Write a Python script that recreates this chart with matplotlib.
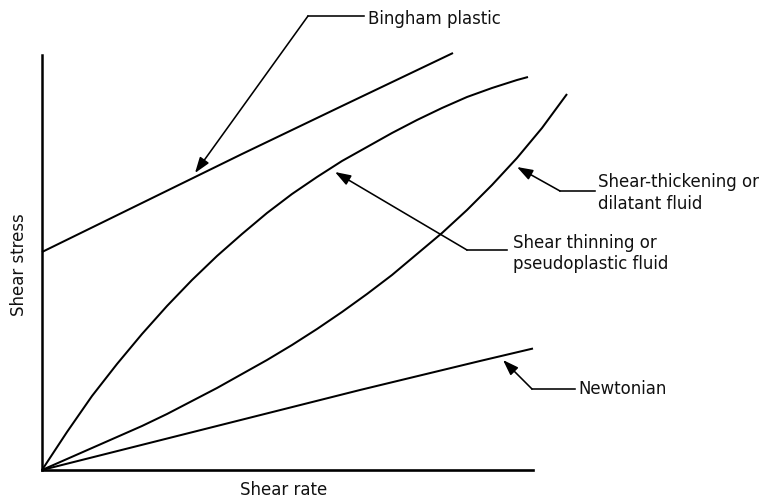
import matplotlib
matplotlib.use("Agg")
import matplotlib.pyplot as plt
from matplotlib import font_manager as fm

# ---------------- data ----------------
newton_x = [0, 318, 438, 491]
newton_y = [0, 80, 109, 121.5]

thin_x = [0, 25, 50, 75, 100, 125, 150, 175, 200, 225, 250, 275, 300,
          325, 350, 375, 400, 425, 450, 475, 486]
thin_y = [0, 38, 74, 106, 136, 164, 190, 214, 236, 257, 276, 293, 309,
          323, 337, 350, 362, 373, 382, 390, 393]

thick_x = [0, 25, 50, 75, 100, 125, 150, 175, 200, 225, 250, 275, 300,
           325, 350, 375, 400, 425, 450, 475, 500, 525]
thick_y = [0, 11, 22, 33, 44, 56, 69, 82, 96, 110, 125, 141, 158,
           176, 195, 216, 237, 260, 285, 312, 342, 376]

bingham_x = [0, 100, 200, 300, 411]
bingham_y = [218, 267, 316, 364, 417]

x_label = "Shear rate"
y_label = "Shear stress"
lbl_bingham = ["Bingham plastic"]
lbl_thick = ["Shear-thickening or", "dilatant fluid"]
lbl_thin = ["Shear thinning or", "pseudoplastic fluid"]
lbl_newton = ["Newtonian"]

# ---------------- font ----------------
cond = [f.fname for f in fm.fontManager.ttflist
        if "DejaVuSansCondensed.ttf" in f.fname]
if cond:
    FP = fm.FontProperties(fname=cond[0], size=13.2)
else:
    FP = fm.FontProperties(family="DejaVu Sans", size=11.9)

# ---------------- figure ----------------
W, H = 764, 501
fig = plt.figure(figsize=(W / 100, H / 100), dpi=100)
ox, oy = 42, 470          # origin in pixels (from top-left)
aw, ah = 491, 415
ax = fig.add_axes([ox / W, (H - oy) / H, aw / W, ah / H])
ax.set_xlim(0, aw)
ax.set_ylim(0, ah)
for s in ("top", "right"):
    ax.spines[s].set_visible(False)
ax.spines["left"].set_linewidth(1.8)
ax.spines["bottom"].set_linewidth(1.9)
ax.set_xticks([])
ax.set_yticks([])
ax.patch.set_visible(False)

lw = 1.45
for xs, ys in ((newton_x, newton_y), (thin_x, thin_y),
               (thick_x, thick_y), (bingham_x, bingham_y)):
    ax.plot(xs, ys, color="black", lw=lw, clip_on=False,
            solid_capstyle="butt", solid_joinstyle="round")


def P(px, py):
    """pixel (from top-left) -> data coords"""
    return px - ox, oy - py


def leader(text_end, corner, tip):
    (x1, y1), (x2, y2) = P(*text_end), P(*corner)
    ax.plot([x1, x2], [y1, y2], color="black", lw=1.15, clip_on=False)
    ax.annotate("", xy=P(*tip), xytext=(x2, y2), annotation_clip=False,
                arrowprops=dict(arrowstyle="-|>,head_length=0.95,head_width=0.33",
                                color="black", lw=1.15, shrinkA=0, shrinkB=0,
                                mutation_scale=10))


def label(lines, px, baselines):
    for t, by in zip(lines, baselines):
        x, y = P(px, by)
        ax.text(x, y, t, fontproperties=FP, ha="left", va="baseline",
                color="#111111", clip_on=False)


# Bingham plastic
leader((364, 16), (308, 16), (195, 173))
label(lbl_bingham, 368, [23.5])

# Shear-thickening
leader((595, 191), (560, 191), (517, 167))
label(lbl_thick, 598, [187, 209])

# Shear thinning
leader((507, 250), (467, 250), (335, 172))
label(lbl_thin, 513, [248.5, 269])

# Newtonian
leader((575, 389), (532, 389), (503, 360))
label(lbl_newton, 578, [394])

# axis labels
x, y = P(284, 495)
ax.text(x, y, x_label, fontproperties=FP, ha="center", va="baseline",
        color="#111111", clip_on=False)
x, y = P(18.5, 265)
ax.text(x, y, y_label, fontproperties=FP, ha="center", va="center",
        rotation=90, color="#111111", clip_on=False)

fig.savefig("out.png", dpi=100)
